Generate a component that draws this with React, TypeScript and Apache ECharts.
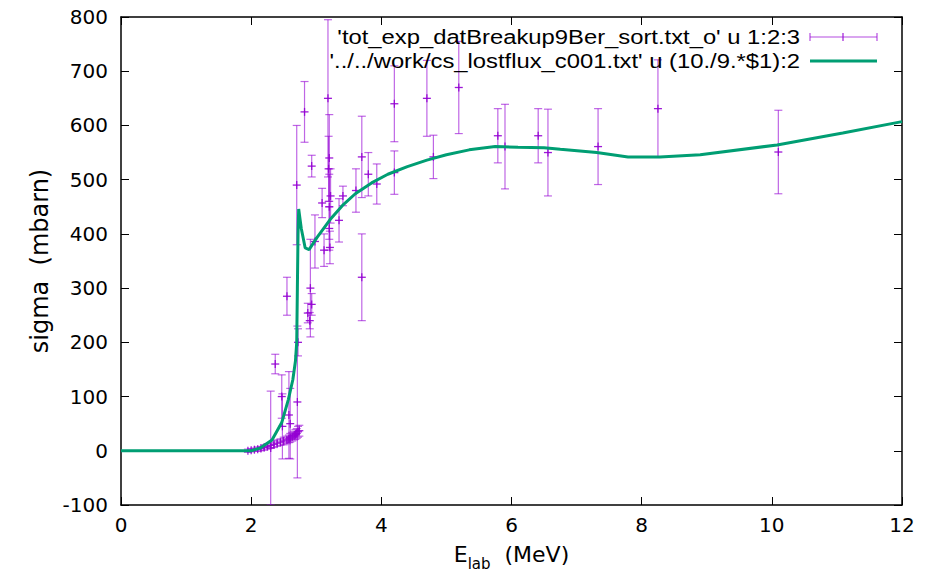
import React, { useEffect, useRef } from "react";
import * as echarts from "echarts";

// ---- experimental data (E_lab MeV, sigma mbarn, error) ----
const expE = [
  1.95, 2.0, 2.05, 2.1, 2.15, 2.2, 2.25, 2.3, 2.35, 2.4, 2.45, 2.5, 2.55, 2.58, 2.6, 2.63, 2.66, 2.68, 2.7, 2.72, 2.74,
  2.3, 2.37, 2.47, 2.48, 2.55, 2.58, 2.6, 2.71, 2.72, 2.7, 2.82, 2.93, 2.91, 2.93, 2.9, 2.87, 2.98,
  3.09, 3.12, 3.18, 3.2, 3.2, 3.22, 3.2, 3.19, 3.21, 3.35, 3.41, 3.61, 3.7, 3.7, 3.8, 3.93,
  4.2, 4.2, 4.7, 4.8, 5.19, 5.79, 5.9, 6.41, 6.56, 7.33, 8.25, 10.1,
];
const expSigma = [
  0, 1, 2, 3, 4, 6, 8, 10, 12, 14, 16, 18, 20, 22, 24, 26, 28, 30, 32, 35, 37,
  5, 160, 100, 45, 285, 66, 50, 90, 200, 490, 625, 525, 300, 270, 240, 254, 386,
  457, 370, 650, 540, 450, 470, 410, 520, 375, 425, 470, 480, 542, 320, 510, 492,
  513, 640, 650, 542, 670, 581, 561, 581, 550, 561, 631, 551,
];
const expErr = [
  3, 3, 3, 4, 4, 5, 5, 5, 6, 6, 6, 7, 7, 7, 8, 8, 8, 9, 9, 10, 10,
  105, 18, 40, 60, 35, 80, 65, 140, 25, 110, 56, 20, 90, 20, 15, 18, 49,
  27, 30, 145, 80, 60, 50, 40, 60, 30, 40, 18, 40, 75, 80, 40, 37,
  40, 70, 70, 40, 85, 50, 78, 50, 80, 70, 90, 77,
];

// ---- calculated cross section curve ----
const curveE = [
  0, 1.0, 1.9, 2.0, 2.14, 2.32, 2.47, 2.57, 2.64, 2.68, 2.7, 2.71, 2.72, 2.73, 2.77, 2.83, 2.89, 3.01, 3.21,
  3.4, 3.6, 3.85, 4.1, 4.4, 4.7, 5.0, 5.35, 5.75, 6.1, 6.5, 6.75, 7.31, 7.79, 8.28, 8.9, 10.08, 11.09, 12.0,
];
const curveSigma = [
  0, 0, 0, 0, 5, 20, 52, 94, 131, 165, 200, 300, 400, 446, 410, 374, 371, 393, 426,
  452, 474, 494, 510, 524, 536, 546, 555, 561, 560, 559, 556, 550, 542, 542, 546, 564, 586, 607,
];

const xMin = 0, xMax = 12, xStep = 2;
const yMin = -100, yMax = 800, yStep = 100;

const legendLabels = [
  "'tot_exp_datBreakup9Ber_sort.txt_o' u 1:2:3",
  "'../../work/cs_lostflux_c001.txt' u (10./9.*$1):2",
];

const FONT = "'Liberation Sans', Arial, Helvetica, sans-serif";
const WFONT = "'DejaVu Sans', 'Liberation Sans', sans-serif";
const PURPLE = "#9400d3";
const GREEN = "#009e73";

export default function App() {
  const ref = useRef<HTMLDivElement>(null);
  useEffect(() => {
    const chart = echarts.init(ref.current!, null, { renderer: "svg" });
    const errData = expE.map((e, i) => [e, expSigma[i], expErr[i]]);
    const curveData = curveE.map((e, i) => [e, curveSigma[i]]);
    const axisLine = { show: true, onZero: false, lineStyle: { color: "#000", width: 1.5 } };
    const axisTick = { show: true, inside: true, length: 8, lineStyle: { color: "#000", width: 1 } };
    const legendStroke = { stroke: PURPLE, lineWidth: 1.2, opacity: 0.7 };
    const option: any = {
      animation: false,
      backgroundColor: "#fff",
      grid: { left: 121, right: 23, top: 17, bottom: 71, containLabel: false },
      xAxis: [
        {
          type: "value", min: xMin, max: xMax, interval: xStep, position: "bottom",
          axisLine, axisTick, splitLine: { show: false },
          axisLabel: { fontSize: 20, color: "#000", margin: 10, fontFamily: WFONT },
          name: "{a|E}{b|lab}{a|  (MeV)}",
          nameLocation: "middle", nameGap: 38,
          nameTextStyle: {
            fontFamily: WFONT, color: "#000",
            rich: {
              a: { fontSize: 22, fontFamily: WFONT, color: "#000", lineHeight: 24, verticalAlign: "top" },
              b: { fontSize: 15, fontFamily: WFONT, color: "#000", lineHeight: 15, padding: [13, 0, 0, 0], verticalAlign: "top" },
            },
          },
        },
        {
          type: "value", min: xMin, max: xMax, interval: xStep, position: "top",
          axisLine, axisTick, splitLine: { show: false }, axisLabel: { show: false },
        },
      ],
      yAxis: [
        {
          type: "value", min: yMin, max: yMax, interval: yStep, position: "left",
          axisLine, axisTick, splitLine: { show: false },
          axisLabel: { fontSize: 20, color: "#000", margin: 13, fontFamily: WFONT },
          name: "sigma  (mbarn)", nameLocation: "middle", nameGap: 67, nameRotate: 90,
          nameTextStyle: { fontSize: 24, fontFamily: WFONT, color: "#000" },
        },
        {
          type: "value", min: yMin, max: yMax, interval: yStep, position: "right",
          axisLine, axisTick, splitLine: { show: false }, axisLabel: { show: false },
        },
      ],
      series: [
        {
          type: "custom",
          name: legendLabels[0],
          xAxisIndex: 0, yAxisIndex: 0,
          clip: true,
          z: 2,
          data: errData,
          renderItem: (params: any, api: any) => {
            const x = api.value(0), y = api.value(1), e = api.value(2);
            const c = api.coord([x, y]);
            const t = api.coord([x, y + e]);
            const b = api.coord([x, y - e]);
            const cap = 4;
            const bar = { stroke: PURPLE, lineWidth: 1.2, opacity: 0.6 };
            const mk = { stroke: PURPLE, lineWidth: 1.3, opacity: 0.9 };
            return {
              type: "group",
              children: [
                { type: "line", shape: { x1: c[0], y1: t[1], x2: c[0], y2: b[1] }, style: bar },
                { type: "line", shape: { x1: c[0] - cap, y1: t[1], x2: c[0] + cap, y2: t[1] }, style: bar },
                { type: "line", shape: { x1: c[0] - cap, y1: b[1], x2: c[0] + cap, y2: b[1] }, style: bar },
                { type: "line", shape: { x1: c[0] - cap, y1: c[1], x2: c[0] + cap, y2: c[1] }, style: mk },
                { type: "line", shape: { x1: c[0], y1: c[1] - cap, x2: c[0], y2: c[1] + cap }, style: mk },
              ],
            };
          },
        },
        {
          type: "line",
          name: legendLabels[1],
          xAxisIndex: 0, yAxisIndex: 0,
          data: curveData,
          showSymbol: false,
          smooth: false,
          z: 5,
          lineStyle: { color: GREEN, width: 3 },
          itemStyle: { color: GREEN },
        },
      ],
      graphic: [
        {
          type: "text", x: 800, y: 37, scaleX: 1.19, originX: 0, originY: 0, z: 10,
          style: { text: legendLabels[0], font: `20px ${FONT}`, fill: "#000", align: "right", verticalAlign: "middle" },
        },
        {
          type: "text", x: 800, y: 61, scaleX: 1.19, originX: 0, originY: 0, z: 10,
          style: { text: legendLabels[1], font: `20px ${FONT}`, fill: "#000", align: "right", verticalAlign: "middle" },
        },
        { type: "line", z: 10, shape: { x1: 810, y1: 37, x2: 877, y2: 37 }, style: legendStroke },
        { type: "line", z: 10, shape: { x1: 810, y1: 33, x2: 810, y2: 41 }, style: legendStroke },
        { type: "line", z: 10, shape: { x1: 877, y1: 33, x2: 877, y2: 41 }, style: legendStroke },
        { type: "line", z: 10, shape: { x1: 843, y1: 33, x2: 843, y2: 41 }, style: { stroke: PURPLE, lineWidth: 1.2, opacity: 0.9 } },
        { type: "line", z: 10, shape: { x1: 810, y1: 61, x2: 877, y2: 61 }, style: { stroke: GREEN, lineWidth: 3 } },
      ],
    };
    chart.setOption(option);
    return () => chart.dispose();
  }, []);
  return <div ref={ref} style={{ position: "absolute", left: 0, top: 0, width: 925, height: 576 }} />;
}
